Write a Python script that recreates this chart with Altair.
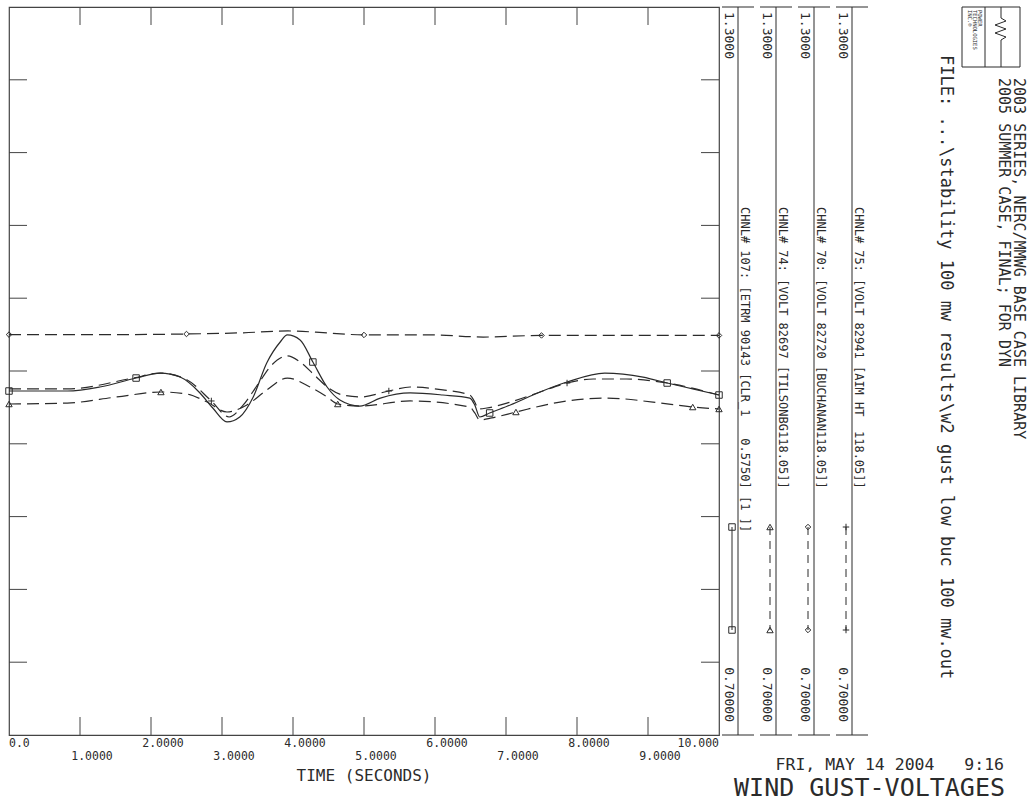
import altair as alt
import pandas as pd

INK = "#2b2b2b"
FRAME = "#444444"
FONT = "DejaVu Sans Mono"

# ---- simulation output: time (s) and channel value (pu) ----
# CHNL# 107  ETRM 90143
t_107 = [0, 0.82, 1.28, 1.79, 2.13, 2.41, 2.69, 2.87, 3.07, 3.25, 3.44, 3.63, 3.82, 3.92,
         4.10, 4.28, 4.48, 4.66, 4.94, 5.23, 5.65, 6.11, 6.49, 6.56, 6.63, 6.77, 7.06, 7.48,
         7.86, 8.39, 8.93, 9.27, 9.63, 10]
v_107 = [0.9835, 0.9835, 0.9868, 0.9942, 0.9983, 0.9950, 0.9819, 0.9695, 0.9580, 0.9621,
         0.9786, 1.0066, 1.0239, 1.0297, 1.0256, 1.0074, 0.9868, 0.9761, 0.9711, 0.9777,
         0.9819, 0.9802, 0.9777, 0.9720, 0.9621, 0.9654, 0.9720, 0.9827, 0.9909, 0.9983,
         0.9950, 0.9901, 0.9852, 0.9802]
mk_107 = [0, 1.79, 4.28, 6.77, 9.27, 10]

# CHNL# 74  VOLT 82697
t_74 = [0, 0.82, 1.52, 2.14, 2.51, 2.79, 3.07, 3.35, 3.63, 3.92, 4.24, 4.48, 4.63, 4.94,
        5.65, 6.49, 6.56, 6.63, 6.80, 7.14, 7.76, 8.42, 9.07, 9.63, 10]
v_74 = [0.9728, 0.9736, 0.9786, 0.9827, 0.9810, 0.9744, 0.9662, 0.9720, 0.9843, 0.9942,
        0.9868, 0.9786, 0.9728, 0.9711, 0.9753, 0.9703, 0.9654, 0.9596, 0.9613, 0.9662,
        0.9744, 0.9777, 0.9744, 0.9703, 0.9687]
mk_74 = [0, 2.14, 4.63, 7.14, 9.63, 10]

# CHNL# 70  VOLT 82720
t_70 = [0, 1.5, 2.5, 3.3, 3.93, 4.5, 5.0, 5.97, 6.68, 7.5, 8.5, 10]
v_70 = [1.0300, 1.0300, 1.0305, 1.0315, 1.0330, 1.0313, 1.0297, 1.0297, 1.0280, 1.0293,
        1.0293, 1.0293]
mk_70 = [0, 2.5, 5.0, 7.5, 10]

# CHNL# 75  VOLT 82941
t_75 = [0, 0.82, 1.75, 2.13, 2.51, 2.85, 3.10, 3.30, 3.50, 3.70, 3.92, 4.10, 4.30, 4.50,
        4.70, 4.95, 5.35, 5.65, 6.11, 6.49, 6.56, 6.61, 6.73, 7.06, 7.48, 7.86, 8.23, 8.70,
        9.27, 10]
v_75 = [0.9852, 0.9852, 0.9942, 0.9983, 0.9926, 0.9753, 0.9621, 0.9720, 0.9885, 1.0049,
        1.0124, 1.0074, 0.9967, 0.9860, 0.9802, 0.9786, 0.9835, 0.9868, 0.9844, 0.9802,
        0.9744, 0.9687, 0.9695, 0.9744, 0.9827, 0.9901, 0.9934, 0.9934, 0.9901, 0.9802]
mk_75 = [2.85, 5.35, 7.86]

channel_labels = [
    "CHNL# 107: [ETRM 90143 [CLR_1   0.5750] [1 ]]",
    "CHNL# 74: [VOLT 82697 [TILSONBG118.05]]",
    "CHNL# 70: [VOLT 82720 [BUCHANAN118.05]]",
    "CHNL# 75: [VOLT 82941 [AIM HT  118.05]]",
]
scale_top = ["1.3000", "1.3000", "1.3000", "1.3000"]
scale_bottom = ["0.70000", "0.70000", "0.70000", "0.70000"]

x_tick_vals = [0, 1, 2, 3, 4, 5, 6, 7, 8, 9, 10]
x_tick_text = ["0.0", "1.0000", "2.0000", "3.0000", "4.0000", "5.0000", "6.0000",
               "7.0000", "8.0000", "9.0000", "10.000"]
y_tick_vals = [0.76, 0.82, 0.88, 0.94, 1.00, 1.06, 1.12, 1.18, 1.24]

title_lines = ["2003 SERIES, NERC/MMWG BASE CASE LIBRARY", "2005 SUMMER CASE, FINAL; FOR DYN"]
file_line = "FILE: ...\\stability 100 mw results\\w2 gust low buc 100 mw.out"
stamp_line = "FRI, MAY 14 2004   9:16"
plot_title = "WIND GUST-VOLTAGES"
x_title = "TIME (SECONDS)"
logo_lines = ["POWER", "TECHNOLOGIES", "INC.\u00ae"]

# ---- layout ----
W, H = 1029, 804
LEFT, TOP = 9, 7
PW, PH = 710, 728
TICK = 18

xs = alt.Scale(domain=[0, 10], nice=False, zero=False)
ys = alt.Scale(domain=[0.70, 1.30], nice=False, zero=False)
X = alt.X("t:Q", scale=xs, axis=None)
Y = alt.Y("v:Q", scale=ys, axis=None)

PLUS = "M-1,0L1,0M0,-1L0,1"
DASH = [12, 6]

channels = [
    dict(t=t_107, v=v_107, mk=mk_107, shape="square", size=42, dash=None),
    dict(t=t_74, v=v_74, mk=mk_74, shape="triangle-up", size=40, dash=DASH),
    dict(t=t_70, v=v_70, mk=mk_70, shape="diamond", size=30, dash=DASH),
    dict(t=t_75, v=v_75, mk=mk_75, shape=PLUS, size=42, dash=DASH),
]

one = pd.DataFrame({"k": [0]})


def keep_spaces(s):
    # SVG collapses runs of blanks; keep the fixed-column spacing
    return s.replace(" ", "\u00a0")


def text_at(s, x, y, size, angle=0, align="left", baseline="middle"):
    kw = dict(font=FONT, fontSize=size, color=INK, align=align, baseline=baseline)
    if angle:
        kw["angle"] = angle
    return alt.Chart(pd.DataFrame({"s": [keep_spaces(s)]})).mark_text(**kw).encode(
        x=alt.value(x), y=alt.value(y), text="s:N")


def seg(x1, y1, x2, y2, color=INK, width=1.0, dash=None):
    kw = dict(color=color, strokeWidth=width)
    if dash:
        kw["strokeDash"] = dash
    return alt.Chart(one).mark_rule(**kw).encode(
        x=alt.value(x1), y=alt.value(y1), x2=alt.value(x2), y2=alt.value(y2))


layers = []

# panel ticks on all four sides, pointing inward
xt = pd.DataFrame({"t": x_tick_vals[1:-1]})
yt = pd.DataFrame({"v": y_tick_vals})
layers.append(alt.Chart(xt).mark_rule(color=FRAME, strokeWidth=1).encode(
    x=X, y=alt.value(0), y2=alt.value(TICK)))
layers.append(alt.Chart(xt).mark_rule(color=FRAME, strokeWidth=1).encode(
    x=X, y=alt.value(PH - TICK), y2=alt.value(PH)))
layers.append(alt.Chart(yt).mark_rule(color=FRAME, strokeWidth=1).encode(
    y=Y, x=alt.value(0), x2=alt.value(TICK)))
layers.append(alt.Chart(yt).mark_rule(color=FRAME, strokeWidth=1).encode(
    y=Y, x=alt.value(PW - TICK), x2=alt.value(PW)))

# traces and their symbols
for ch in channels:
    df = pd.DataFrame({"t": ch["t"], "v": ch["v"]})
    kw = dict(color=INK, strokeWidth=1.2, interpolate="monotone")
    if ch["dash"]:
        kw["strokeDash"] = ch["dash"]
    layers.append(alt.Chart(df).mark_line(**kw).encode(x=X, y=Y))
    pts = df[df["t"].isin(ch["mk"])]
    layers.append(alt.Chart(pts).mark_point(
        shape=ch["shape"], size=ch["size"], filled=False, color=INK,
        strokeWidth=1, opacity=1).encode(x=X, y=Y))

# time axis labels, staggered on two rows
lab = pd.DataFrame({"t": x_tick_vals, "label": x_tick_text})
lab_kw = dict(font=FONT, fontSize=11.5, color=INK, baseline="middle")
layers.append(alt.Chart(lab.iloc[[0]]).mark_text(align="left", **lab_kw).encode(
    x=X, y=alt.value(PH + 9), text="label:N"))
layers.append(alt.Chart(lab.iloc[[2, 4, 6, 8]]).mark_text(align="center", dx=12, **lab_kw).encode(
    x=X, y=alt.value(PH + 9), text="label:N"))
layers.append(alt.Chart(lab.iloc[[1, 3, 5, 7, 9]]).mark_text(align="center", dx=12, **lab_kw).encode(
    x=X, y=alt.value(PH + 22), text="label:N"))
layers.append(alt.Chart(lab.iloc[[10]]).mark_text(align="right", **lab_kw).encode(
    x=X, y=alt.value(PH + 9), text="label:N"))
layers.append(text_at(x_title, PW / 2, PH + 41, 16, align="center"))

# per-channel scale bars with rotated labels and legend strokes
for i, ch in enumerate(channels):
    cx = PW + 19 + 38 * i
    layers.append(seg(cx, 0, cx, PH))
    layers.append(seg(cx - 16, 0, cx + 16, 0))
    layers.append(seg(cx - 16, PH, cx + 16, PH))
    layers.append(text_at(scale_top[i], cx - 9, 5, 13, angle=90, align="left"))
    layers.append(text_at(scale_bottom[i], cx - 9, PH - 13, 13, angle=90, align="right"))
    layers.append(text_at(channel_labels[i], cx + 7, 200, 12, angle=90, align="left"))
    ly0, ly1 = 520, 623
    layers.append(seg(cx - 6, ly0, cx - 6, ly1, dash=[8, 6] if ch["dash"] else None))
    for ly in (ly0, ly1):
        layers.append(alt.Chart(one).mark_point(
            shape=ch["shape"], size=ch["size"], filled=False, color=INK,
            strokeWidth=1, opacity=1).encode(x=alt.value(cx - 6), y=alt.value(ly)))

# header block: case titles, file name and logo
layers.append(text_at(title_lines[0], 1010, 71, 15, angle=90))
layers.append(text_at(title_lines[1], 995, 71, 15, angle=90))
layers.append(text_at(file_line, 937, 48, 17, angle=90))

lx0, lx1, ly0, ly1 = 953, 1011, 0, 60
layers.append(seg(lx0, ly0, lx1, ly0))
layers.append(seg(lx0, ly1, lx1, ly1))
layers.append(seg(lx0, ly0, lx0, ly1))
layers.append(seg(lx1, ly0, lx1, ly1))
layers.append(seg(976, ly0, 976, ly1))
for j, s in enumerate(logo_lines):
    layers.append(text_at(s, 971 - 5 * j, 3, 5.5, angle=90))
wave = [(992, 0), (992, 11), (997, 14), (986, 18), (997, 22), (986, 26), (997, 30),
        (992, 33), (992, 60)]
for (a, b), (c, d) in zip(wave[:-1], wave[1:]):
    layers.append(seg(a, b, c, d))

# footer: run stamp and plot title
layers.append(text_at(stamp_line, 995, 758, 16.5, align="right"))
layers.append(text_at(plot_title, 996, 781, 25, align="right"))

chart = alt.layer(*layers).properties(
    width=PW, height=PH,
    padding={"left": LEFT, "top": TOP, "right": W - LEFT - PW, "bottom": H - TOP - PH},
    autosize=alt.AutoSizeParams(type="none"),
    background="white",
).configure_view(stroke=FRAME, strokeWidth=1.2)

chart.save("out.html", embed_options={"renderer": "svg", "actions": False})
